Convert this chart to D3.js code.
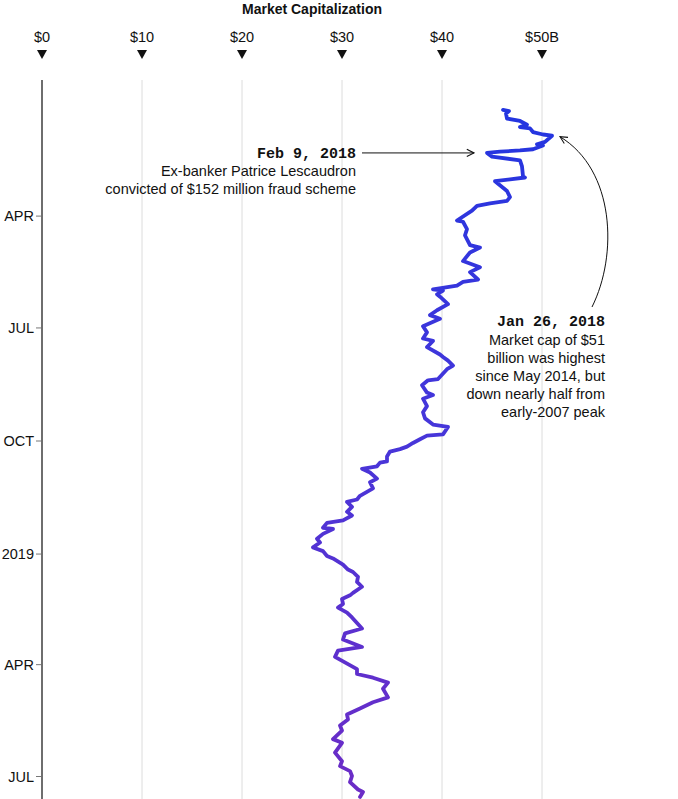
<!DOCTYPE html>
<meta charset="utf-8">
<head>
<script src="https://d3js.org/d3.v7.min.js"></script>
<style>
body { margin: 0; background: #fff; }
svg { display: block; }
text { font-family: "Liberation Sans", Arial, sans-serif; fill: #111; }
.mono { font-family: "Liberation Mono", "DejaVu Sans Mono", monospace; font-weight: bold; }
</style>
</head>
<body>
<div id="chart"></div>

<script>
// market cap, billions of dollars
var dates = [
  "2018-01-05","2018-01-06","2018-01-08","2018-01-12","2018-01-14","2018-01-17","2018-01-19","2018-01-20",
  "2018-01-23","2018-01-25","2018-01-26","2018-01-31","2018-02-02","2018-02-03","2018-02-06","2018-02-07",
  "2018-02-08","2018-02-09","2018-02-12","2018-02-15","2018-02-20","2018-02-28","2018-03-01","2018-03-04",
  "2018-03-12","2018-03-17","2018-03-20","2018-03-22","2018-03-24","2018-03-28","2018-04-05","2018-04-06",
  "2018-04-12","2018-04-17","2018-04-25","2018-04-27","2018-05-01","2018-05-08","2018-05-13","2018-05-17",
  "2018-05-23","2018-05-25","2018-05-28","2018-05-31","2018-06-01","2018-06-04","2018-06-06","2018-06-12",
  "2018-06-17","2018-06-21","2018-06-24","2018-06-30","2018-07-05","2018-07-10","2018-07-12","2018-07-17",
  "2018-07-23","2018-07-25","2018-07-28","2018-08-01","2018-08-04","2018-08-12","2018-08-13","2018-08-17",
  "2018-08-23","2018-08-25","2018-08-28","2018-09-03","2018-09-08","2018-09-13","2018-09-18","2018-09-20",
  "2018-09-26","2018-09-27","2018-09-30","2018-10-03","2018-10-06","2018-10-08","2018-10-10","2018-10-14",
  "2018-10-18","2018-10-19","2018-10-22","2018-10-24","2018-10-27","2018-11-01","2018-11-04","2018-11-09",
  "2018-11-15","2018-11-18","2018-11-20","2018-11-24","2018-11-28","2018-12-01","2018-12-05","2018-12-07",
  "2018-12-11","2018-12-12","2018-12-16","2018-12-20","2018-12-23","2018-12-27","2018-12-30","2019-01-03",
  "2019-01-05","2019-01-10","2019-01-14","2019-01-16","2019-01-20","2019-01-24","2019-01-28","2019-02-02",
  "2019-02-04","2019-02-07","2019-02-11","2019-02-14","2019-02-18","2019-02-22","2019-03-03","2019-03-07",
  "2019-03-12","2019-03-18","2019-03-21","2019-03-26","2019-04-05","2019-04-09","2019-04-12","2019-04-16",
  "2019-04-21","2019-04-28","2019-05-02","2019-05-07","2019-05-12","2019-05-16","2019-05-21","2019-05-25",
  "2019-06-01","2019-06-04","2019-06-12","2019-06-19","2019-06-23","2019-06-27","2019-07-01","2019-07-06",
  "2019-07-12","2019-07-14","2019-07-18"];

var marketCap = [
  46.1,46.7,46.4,46.5,47.8,48.5,47.8,48.8,
  49.1,50.1,51.0,50.3,49.5,50.1,49.1,47.8,
  45.8,44.5,45.0,47.8,48.0,48.1,48.3,45.3,
  46.5,46.8,46.5,44.8,43.5,43.0,41.5,42.1,
  42.5,42.3,42.8,43.8,42.8,42.1,43.8,42.8,
  43.6,42.1,41.5,39.1,40.1,39.5,39.8,40.6,
  39.5,38.8,39.8,38.1,38.5,38.1,39.1,38.5,
  39.8,40.1,40.6,41.1,40.5,39.6,38.6,38.0,
  38.5,39.1,38.1,38.5,38.1,38.3,39.1,40.6,
  40.1,38.5,37.8,37.1,36.5,35.8,34.8,34.5,
  34.5,33.8,33.5,32.0,32.8,33.5,32.8,33.1,
  31.8,31.5,30.5,31.0,30.5,31.0,30.1,28.5,
  28.1,29.1,28.1,27.5,27.8,27.1,28.1,28.5,
  29.1,30.1,30.6,31.1,31.6,31.5,32.0,31.1,
  30.8,30.0,30.1,29.6,30.5,31.0,32.0,30.3,
  30.1,32.0,29.6,29.3,31.5,31.5,33.1,34.6,
  34.1,34.6,33.1,31.8,30.5,30.6,29.8,30.0,
  29.1,30.0,29.3,30.0,29.8,30.8,31.0,30.8,
  31.6,32.1,31.8];

var xTicks = [0, 10, 20, 30, 40, 50];
var xTickLabels = ["$0", "$10", "$20", "$30", "$40", "$50B"];
var yTicks = ["2018-04-01", "2018-07-01", "2018-10-01", "2019-01-01", "2019-04-01", "2019-07-01"];
var yTickLabels = ["APR", "JUL", "OCT", "2019", "APR", "JUL"];

var notePeak = { date: "2018-01-26", head: "Jan 26, 2018",
  lines: ["Market cap of $51", "billion was highest", "since May 2014, but", "down nearly half from", "early-2007 peak"] };
var noteFraud = { date: "2018-02-09", head: "Feb 9, 2018",
  lines: ["Ex-banker Patrice Lescaudron", "convicted of $152 million fraud scheme"] };
</script>

<script>
var W = 678, H = 799;
var parse = d3.timeParse("%Y-%m-%d");

var data = dates.map(function(d, i) { return { date: parse(d), value: marketCap[i] }; });

var x = d3.scaleLinear().domain([0, 50]).range([42, 542]);
var y = d3.scaleTime().domain([parse("2018-01-01"), parse("2019-07-01")]).range([105, 776]);

var svg = d3.select("#chart").append("svg").attr("width", W).attr("height", H);

var defs = svg.append("defs");
var grad = defs.append("linearGradient").attr("id", "lineGrad")
  .attr("gradientUnits", "userSpaceOnUse")
  .attr("x1", 0).attr("y1", y(data[0].date)).attr("x2", 0).attr("y2", y(data[data.length - 1].date));
grad.append("stop").attr("offset", "0%").attr("stop-color", "#2335e0");
grad.append("stop").attr("offset", "45%").attr("stop-color", "#4536da");
grad.append("stop").attr("offset", "100%").attr("stop-color", "#6c2cc6");

defs.append("marker").attr("id", "arrow")
  .attr("viewBox", "0 0 10 10").attr("refX", 9).attr("refY", 5)
  .attr("markerWidth", 9).attr("markerHeight", 9).attr("markerUnits", "userSpaceOnUse")
  .attr("orient", "auto")
  .append("path").attr("d", "M1,1 L9,5 L1,9").attr("fill", "none").attr("stroke", "#111").attr("stroke-width", 1.2);

// title
svg.append("text").attr("x", 312).attr("y", 14).attr("text-anchor", "middle")
  .style("font-size", "14px").style("font-weight", "bold").text("Market Capitalization");

// top ticks with triangles
var topAxis = svg.append("g");
xTicks.forEach(function(t, i) {
  var cx = x(t);
  topAxis.append("text").attr("x", cx).attr("y", 42).attr("text-anchor", "middle")
    .style("font-size", "14.5px").text(xTickLabels[i]);
  topAxis.append("path").attr("d", "M" + (cx - 5) + ",50 L" + (cx + 5) + ",50 L" + cx + ",59 Z").attr("fill", "#111");
});

// grid
svg.append("g").selectAll("line").data(xTicks.slice(1)).join("line")
  .attr("x1", function(d) { return x(d); }).attr("x2", function(d) { return x(d); })
  .attr("y1", 80).attr("y2", H)
  .attr("stroke", "#dcdcdc").attr("stroke-width", 1);

// left axis
var yAxis = d3.axisLeft(y)
  .tickValues(yTicks.map(parse))
  .tickSize(6)
  .tickFormat(function(d, i) { return yTickLabels[i]; });

var ga = svg.append("g").attr("transform", "translate(" + x(0) + ",0)").call(yAxis);
ga.select(".domain").remove();
ga.selectAll(".tick line").attr("stroke", "#777");
ga.selectAll(".tick text").attr("x", -8).attr("dy", "0.35em")
  .style("font-family", "'Liberation Sans', Arial, sans-serif").style("font-size", "14.5px").attr("fill", "#111");

svg.append("line").attr("x1", x(0)).attr("x2", x(0)).attr("y1", 80).attr("y2", H)
  .attr("stroke", "#6e6e6e").attr("stroke-width", 2);

// line
var line = d3.line()
  .x(function(d) { return x(d.value); })
  .y(function(d) { return y(d.date); });

svg.append("path").datum(data)
  .attr("d", line)
  .attr("fill", "none")
  .attr("stroke", "url(#lineGrad)")
  .attr("stroke-width", 3.8)
  .attr("stroke-linejoin", "round")
  .attr("stroke-linecap", "round");

// Feb 9 note
var fy = y(parse(noteFraud.date));
svg.append("line").attr("x1", 362).attr("x2", 474).attr("y1", fy).attr("y2", fy)
  .attr("stroke", "#111").attr("stroke-width", 1).attr("marker-end", "url(#arrow)");
svg.append("text").attr("class", "mono").attr("x", 356).attr("y", fy + 5).attr("text-anchor", "end")
  .style("font-size", "15px").text(noteFraud.head);
noteFraud.lines.forEach(function(t, i) {
  svg.append("text").attr("x", 356).attr("y", fy + 23 + i * 18).attr("text-anchor", "end")
    .style("font-size", "14.5px").text(t);
});

// Jan 26 note
var px = x(51) + 8, py = y(parse(notePeak.date)) + 1;
svg.append("path")
  .attr("d", "M592,307 C618,255 615,170 " + px + "," + py)
  .attr("fill", "none").attr("stroke", "#111").attr("stroke-width", 1).attr("marker-end", "url(#arrow)");
svg.append("text").attr("class", "mono").attr("x", 605).attr("y", 326).attr("text-anchor", "end")
  .style("font-size", "15px").text(notePeak.head);
notePeak.lines.forEach(function(t, i) {
  svg.append("text").attr("x", 605).attr("y", 345 + i * 18).attr("text-anchor", "end")
    .style("font-size", "14.5px").text(t);
});
</script>
</body>
